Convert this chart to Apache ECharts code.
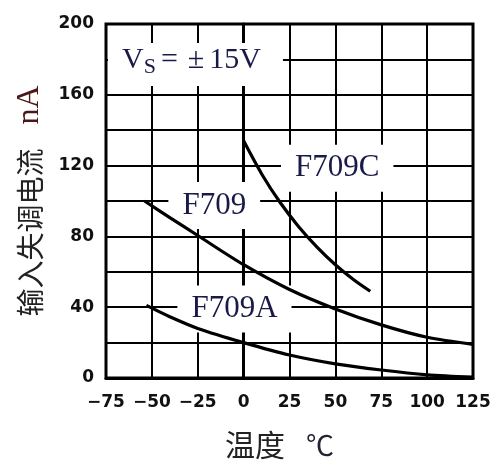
<!DOCTYPE html>
<html>
<head>
<meta charset="utf-8">
<script src="https://cdn.jsdelivr.net/npm/echarts@6/dist/echarts.min.js"></script>
<style>
  html, body { margin: 0; padding: 0; background: #fff; }
  #chart { width: 494px; height: 461px; }
</style>
</head>
<body>
<div id="chart"></div>
<script>
// 温度 (℃) 与 输入失调电流 (nA)
var tempF709C = [0, 10, 20, 30, 40, 50, 60, 69];
var currF709C = [134, 115, 99, 85.5, 74, 64, 55.5, 49];

var tempF709 = [-54, -40, -25, 0, 25, 50, 75, 100, 125];
var currF709 = [100, 90.5, 80.5, 64, 50, 39, 30, 23, 19];

var tempF709A = [-53, -40, -25, 0, 25, 50, 75, 100, 125];
var currF709A = [41, 34.5, 28, 20, 13, 8, 4.5, 1.8, 0.5];

// 曲线名称标注的位置 (数据坐标)
var labelNames = ['F709C', 'F709', 'F709A'];
var labelAt = [[51, 118.5], [-16, 97.5], [-5, 39]];

var xTicks = [-75, -50, -25, 0, 25, 50, 75, 100, 125];
var yTicks = [0, 40, 80, 120, 160, 200];

function pairs(xs, ys) {
	var out = [];
	for (var i = 0; i < xs.length; i++) out.push([xs[i], ys[i]]);
	return out;
}

var chart = echarts.init(document.getElementById('chart'));

var tickFont = {
	fontFamily: 'DejaVu Sans',
	fontWeight: 'bold',
	fontSize: 17,
	color: '#111'
};
var curveLabel = {
	fontFamily: 'Liberation Serif',
	fontSize: 31,
	color: '#1a1a48',
	backgroundColor: '#fff',
	padding: [8, 14]
};

function curve(name, xs, ys, idx) {
	return {
		name: name,
		type: 'line',
		data: pairs(xs, ys),
		smooth: 0.3,
		symbol: 'none',
		lineStyle: { color: '#000', width: 3.2 },
		z: 3,
		markPoint: {
			symbol: 'rect',
			symbolSize: 0,
			data: [{ coord: labelAt[idx], value: labelNames[idx] }],
			label: Object.assign({ show: true, position: 'inside', formatter: labelNames[idx] }, curveLabel),
			z: 1
		}
	};
}

chart.setOption({
	animation: false,
	backgroundColor: '#fff',
	title: {
		text: 'V{s|S}{e|=}{e|±}15V',
		left: 108,
		top: 40,
		padding: [2, 22, 8, 14],
		backgroundColor: '#fff',
		textStyle: {
			fontFamily: 'Liberation Serif',
			fontSize: 30,
			fontWeight: 'normal',
			color: '#1a1a48',
			rich: {
				s: { fontFamily: 'Liberation Serif', fontSize: 22, color: '#1a1a48', verticalAlign: 'bottom', padding: [14, 0, 0, 0] },
				e: { fontFamily: 'Liberation Serif', fontSize: 30, color: '#1a1a48', padding: [0, 5] }
			}
		}
	},
	grid: {
		left: 106,
		top: 24,
		right: 21,
		bottom: 83,
		outerBoundsMode: 'none',
		show: true,
		borderColor: '#000',
		borderWidth: 3
	},
	xAxis: {
		type: 'value',
		min: xTicks[0],
		max: xTicks[xTicks.length - 1],
		interval: 25,
		name: '{a|温度}{b|℃}',
		nameLocation: 'middle',
		nameGap: 52,
		nameTextStyle: {
			rich: {
				a: { fontFamily: 'Noto Sans CJK SC', fontSize: 30, color: '#222' },
				b: { fontFamily: 'Noto Sans CJK SC', fontSize: 28, color: '#223', padding: [0, 20, 0, 21] }
			}
		},
		axisLine: { lineStyle: { color: '#000', width: 3 } },
		axisTick: { show: false },
		splitLine: { lineStyle: { color: '#000', width: 2 } },
		axisLabel: Object.assign({
			margin: 16,
			formatter: function(v) { return String(v).replace('-', '\u2212'); }
		}, tickFont)
	},
	yAxis: {
		type: 'value',
		min: 0,
		max: yTicks[yTicks.length - 1],
		interval: 20,
		name: '{a|输入失调电流}{b|nA}',
		nameLocation: 'middle',
		nameRotate: 90,
		nameGap: 60,
		nameTextStyle: {
			rich: {
				a: { fontFamily: 'Noto Sans CJK SC', fontSize: 28, color: '#222' },
				b: { fontFamily: 'Liberation Serif', fontSize: 32, color: '#4a1818', padding: [0, 0, 0, 24] }
			}
		},
		axisLine: { show: true, lineStyle: { color: '#000', width: 3 } },
		axisTick: { show: false },
		splitLine: { lineStyle: { color: '#000', width: 2 } },
		axisLabel: Object.assign({
			margin: 12,
			formatter: function(v) { return yTicks.indexOf(v) >= 0 ? String(v) : ''; }
		}, tickFont)
	},
	series: [
		curve('F709C', tempF709C, currF709C, 0),
		curve('F709', tempF709, currF709, 1),
		curve('F709A', tempF709A, currF709A, 2)
	]
});
</script>
</body>
</html>
